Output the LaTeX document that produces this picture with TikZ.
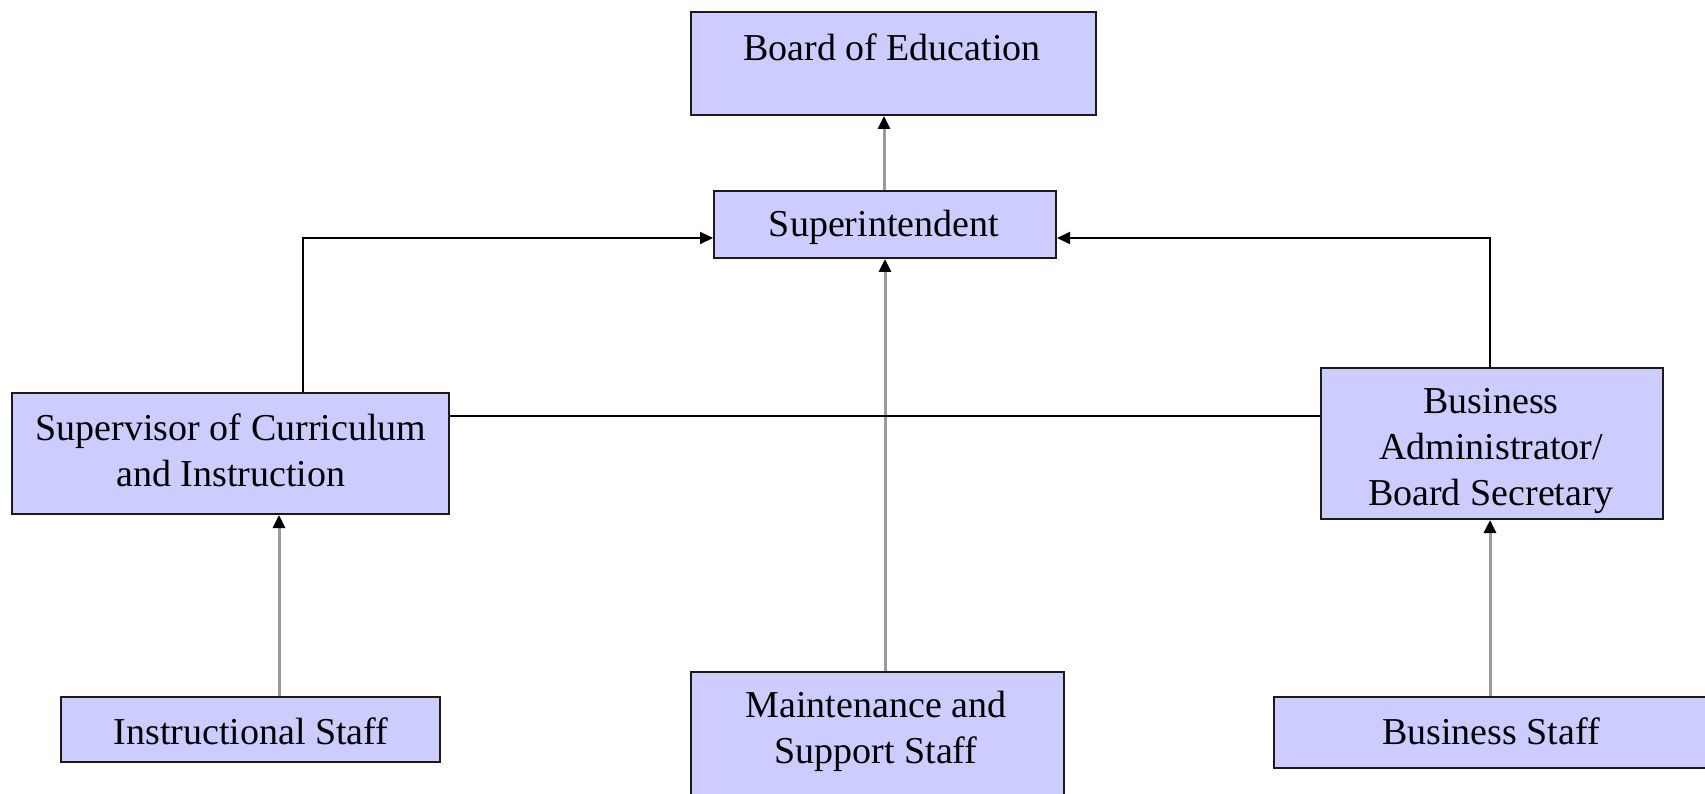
\documentclass[tikz,border=0pt]{standalone}
\usepackage{fontspec}
\setmainfont{Liberation Serif}
\usetikzlibrary{arrows.meta}
\definecolor{boxfill}{HTML}{CCCCFF}
\definecolor{boxline}{HTML}{1A1A1A}
\definecolor{greyline}{HTML}{9A9A9A}
\tikzset{
  box/.style={draw=boxline, fill=boxfill, line width=2pt, inner sep=0pt, anchor=north west},
  lbl/.style={inner sep=0pt, anchor=base, align=center, font=\fontsize{38}{46}\selectfont},
  tip/.style={-{Triangle[length=13pt,width=12pt,color=black]}},
  greyarrow/.style={tip, draw=greyline, line width=3pt},
  blackarrow/.style={tip, draw=black, line width=2pt},
  blackline/.style={draw=black, line width=2pt}
}
\begin{document}
\begin{tikzpicture}[x=1pt,y=-1pt]
\useasboundingbox (0,0) rectangle (1705,794);
% boxes
\node[box, minimum width=405pt, minimum height=103pt] (board) at (690,11) {};
\node[box, minimum width=342pt, minimum height=67pt] (super) at (713,190) {};
\node[box, minimum width=437pt, minimum height=121pt] (supv) at (11,392) {};
\node[box, minimum width=342pt, minimum height=151pt] (badm) at (1320,367) {};
\node[box, minimum width=379pt, minimum height=65pt] (instr) at (60,696) {};
\node[box, minimum width=373pt, minimum height=140pt] (maint) at (690,671) {};
\node[box, minimum width=460pt, minimum height=71pt] (bstaff) at (1273,696) {};
% connectors
\draw[greyarrow] (super.north -| 884,0) -- (board.south -| 884,0);
\draw[greyarrow] (maint.north -| 885,0) -- (super.south -| 885,0);
\draw[greyarrow] (instr.north -| 279,0) -- (supv.south -| 279,0);
\draw[greyarrow] (bstaff.north -| 1490,0) -- (badm.south -| 1490,0);
\draw[blackarrow] (supv.north -| 303,0) |- (super.west |- 0,238);
\draw[blackarrow] (badm.north -| 1490,0) |- (super.east |- 0,238);
\draw[blackline] (supv.east |- 0,416) -- (badm.west |- 0,416);
% labels (anchor base = baseline of last line)
\node[lbl] (tboard) at (892,61) {Board of Education};
\node[lbl] (tsuper) at (884,237) {Superintendent};
\node[lbl] (tsupv) at (231,486) {Supervisor of Curriculum\\and Instruction};
\node[lbl] (tbadm) at (1491,505) {Business\\Administrator/\\Board Secretary};
\node[lbl] (tinstr) at (251,744) {Instructional Staff};
\node[lbl] (tmaint) at (876,763) {Maintenance and\\Support Staff};
\node[lbl] (tbstaff) at (1491,744) {Business Staff};
\end{tikzpicture}
\end{document}
